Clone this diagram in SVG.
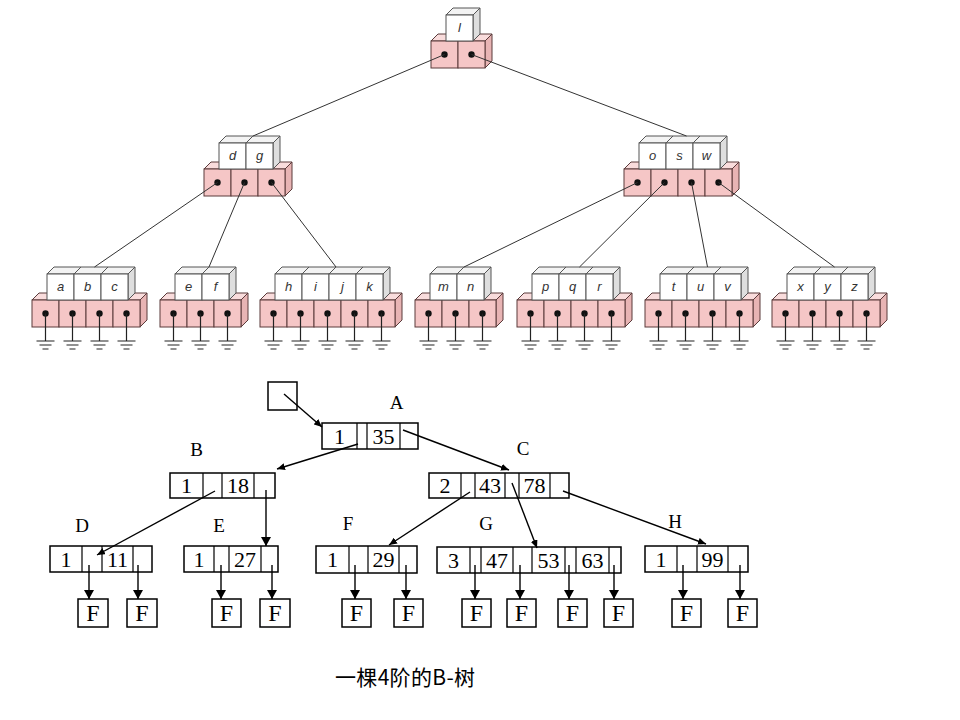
<svg xmlns="http://www.w3.org/2000/svg" width="960" height="720" viewBox="0 0 960 720">
<style>
.pt{fill:#f9dcdc;stroke:#5a3a3a;stroke-width:1}
.ps{fill:#e8b4b4;stroke:#5a3a3a;stroke-width:1}
.pf{fill:#f5c6c6;stroke:#5a3a3a;stroke-width:1}
.kt{fill:#f3f3f3;stroke:#555;stroke-width:1}
.ks{fill:#dedede;stroke:#555;stroke-width:1}
.kf{fill:#fff;stroke:#555;stroke-width:1}
.dot{fill:#111}
.gl{stroke:#222;stroke-width:1.2;fill:none}
.lt{font-family:"Liberation Sans",Arial,sans-serif;font-style:italic;font-size:13px;fill:#333;text-anchor:middle}
.tc{stroke:#333;stroke-width:1;fill:none}
.bx{fill:#fff;stroke:#000;stroke-width:1.5}
.dv{stroke:#000;stroke-width:1.2}
.num{font-family:"Liberation Serif","Times New Roman",serif;font-size:22px;fill:#000;text-anchor:middle}
.lab{font-family:"Liberation Serif","Times New Roman",serif;font-size:19px;fill:#000;text-anchor:middle}
.ff{font-family:"Liberation Serif","Times New Roman",serif;font-size:24px;fill:#000;text-anchor:middle}
.cn{stroke:#000;stroke-width:1.4;fill:none}
.cap{font-family:"Noto Sans CJK SC","Noto Sans",sans-serif;font-size:21px;fill:#000}
</style>
<defs>
<g id="pc">
<polygon class="pt" points="0,0 7,-7 34,-7 27,0"/>
<polygon class="ps" points="27,0 34,-7 34,20 27,27"/>
<rect class="pf" x="0" y="0" width="27" height="27"/>
<circle class="dot" cx="13.5" cy="13.5" r="3.2"/>
</g>
<g id="kc">
<polygon class="kt" points="0,0 7,-7 34,-7 27,0"/>
<polygon class="ks" points="27,0 34,-7 34,19 27,26"/>
<rect class="kf" x="0" y="0" width="27" height="26"/>
</g>
<g id="gnd">
<path class="gl" d="M0,0 V27.5 M-9,27.5 H9 M-6,31.5 H6 M-3,35.5 H3"/>
</g>
<marker id="ah" viewBox="0 0 10 10" refX="10" refY="5" markerWidth="9" markerHeight="10" markerUnits="userSpaceOnUse" orient="auto" preserveAspectRatio="none">
<path d="M0,0 L10,5 L0,10 z" fill="#000"/>
</marker>
<marker id="as" viewBox="0 0 10 10" refX="10" refY="5" markerWidth="8" markerHeight="7" markerUnits="userSpaceOnUse" orient="auto" preserveAspectRatio="none">
<path d="M0,0 L10,5 L0,10 z" fill="#000"/>
</marker>
</defs>
<rect x="0" y="0" width="960" height="720" fill="#fff"/>

<!-- top tree nodes -->
<g id="node-l">
<use href="#pc" x="431" y="41"/><use href="#pc" x="458" y="41"/>
<use href="#kc" x="446" y="15"/>
<text class="lt" x="459.5" y="32">l</text>
</g>
<g id="node-dg">
<use href="#pc" x="204" y="169"/><use href="#pc" x="231" y="169"/><use href="#pc" x="258" y="169"/>
<use href="#kc" x="219" y="143"/><use href="#kc" x="246" y="143"/>
<text class="lt" x="232.5" y="160">d</text><text class="lt" x="259.5" y="160">g</text>
</g>
<g id="node-osw">
<use href="#pc" x="624" y="169"/><use href="#pc" x="651" y="169"/><use href="#pc" x="678" y="169"/><use href="#pc" x="705" y="169"/>
<use href="#kc" x="639" y="143"/><use href="#kc" x="666" y="143"/><use href="#kc" x="693" y="143"/>
<text class="lt" x="652.5" y="160">o</text><text class="lt" x="679.5" y="160">s</text><text class="lt" x="706.5" y="160">w</text>
</g>
<g id="node-abc">
<use href="#pc" x="32" y="300"/><use href="#pc" x="59" y="300"/><use href="#pc" x="86" y="300"/><use href="#pc" x="113" y="300"/>
<use href="#kc" x="47" y="274"/><use href="#kc" x="74" y="274"/><use href="#kc" x="101" y="274"/>
<text class="lt" x="60.5" y="291">a</text><text class="lt" x="87.5" y="291">b</text><text class="lt" x="114.5" y="291">c</text>
<use href="#gnd" x="45.5" y="313.5"/><use href="#gnd" x="72.5" y="313.5"/><use href="#gnd" x="99.5" y="313.5"/><use href="#gnd" x="126.5" y="313.5"/>
</g>
<g id="node-ef">
<use href="#pc" x="160" y="300"/><use href="#pc" x="187" y="300"/><use href="#pc" x="214" y="300"/>
<use href="#kc" x="175" y="274"/><use href="#kc" x="202" y="274"/>
<text class="lt" x="188.5" y="291">e</text><text class="lt" x="215.5" y="291">f</text>
<use href="#gnd" x="173.5" y="313.5"/><use href="#gnd" x="200.5" y="313.5"/><use href="#gnd" x="227.5" y="313.5"/>
</g>
<g id="node-hijk">
<use href="#pc" x="260" y="300"/><use href="#pc" x="287" y="300"/><use href="#pc" x="314" y="300"/><use href="#pc" x="341" y="300"/><use href="#pc" x="368" y="300"/>
<use href="#kc" x="275" y="274"/><use href="#kc" x="302" y="274"/><use href="#kc" x="329" y="274"/><use href="#kc" x="356" y="274"/>
<text class="lt" x="288.5" y="291">h</text><text class="lt" x="315.5" y="291">i</text><text class="lt" x="342.5" y="291">j</text><text class="lt" x="369.5" y="291">k</text>
<use href="#gnd" x="273.5" y="313.5"/><use href="#gnd" x="300.5" y="313.5"/><use href="#gnd" x="327.5" y="313.5"/><use href="#gnd" x="354.5" y="313.5"/><use href="#gnd" x="381.5" y="313.5"/>
</g>
<g id="node-mn">
<use href="#pc" x="415" y="300"/><use href="#pc" x="442" y="300"/><use href="#pc" x="469" y="300"/>
<use href="#kc" x="430" y="274"/><use href="#kc" x="457" y="274"/>
<text class="lt" x="443.5" y="291">m</text><text class="lt" x="470.5" y="291">n</text>
<use href="#gnd" x="428.5" y="313.5"/><use href="#gnd" x="455.5" y="313.5"/><use href="#gnd" x="482.5" y="313.5"/>
</g>
<g id="node-pqr">
<use href="#pc" x="517" y="300"/><use href="#pc" x="544" y="300"/><use href="#pc" x="571" y="300"/><use href="#pc" x="598" y="300"/>
<use href="#kc" x="532" y="274"/><use href="#kc" x="559" y="274"/><use href="#kc" x="586" y="274"/>
<text class="lt" x="545.5" y="291">p</text><text class="lt" x="572.5" y="291">q</text><text class="lt" x="599.5" y="291">r</text>
<use href="#gnd" x="530.5" y="313.5"/><use href="#gnd" x="557.5" y="313.5"/><use href="#gnd" x="584.5" y="313.5"/><use href="#gnd" x="611.5" y="313.5"/>
</g>
<g id="node-tuv">
<use href="#pc" x="645" y="300"/><use href="#pc" x="672" y="300"/><use href="#pc" x="699" y="300"/><use href="#pc" x="726" y="300"/>
<use href="#kc" x="660" y="274"/><use href="#kc" x="687" y="274"/><use href="#kc" x="714" y="274"/>
<text class="lt" x="673.5" y="291">t</text><text class="lt" x="700.5" y="291">u</text><text class="lt" x="727.5" y="291">v</text>
<use href="#gnd" x="658.5" y="313.5"/><use href="#gnd" x="685.5" y="313.5"/><use href="#gnd" x="712.5" y="313.5"/><use href="#gnd" x="739.5" y="313.5"/>
</g>
<g id="node-xyz">
<use href="#pc" x="772" y="300"/><use href="#pc" x="799" y="300"/><use href="#pc" x="826" y="300"/><use href="#pc" x="853" y="300"/>
<use href="#kc" x="787" y="274"/><use href="#kc" x="814" y="274"/><use href="#kc" x="841" y="274"/>
<text class="lt" x="800.5" y="291">x</text><text class="lt" x="827.5" y="291">y</text><text class="lt" x="854.5" y="291">z</text>
<use href="#gnd" x="785.5" y="313.5"/><use href="#gnd" x="812.5" y="313.5"/><use href="#gnd" x="839.5" y="313.5"/><use href="#gnd" x="866.5" y="313.5"/>
</g>

<g id="top-connectors">
<line class="tc" x1="444.5" y1="54.5" x2="253" y2="136"/>
<line class="tc" x1="471.5" y1="54.5" x2="686.5" y2="136"/>
<line class="tc" x1="217.5" y1="182.5" x2="94.5" y2="267"/>
<line class="tc" x1="244.5" y1="182.5" x2="209" y2="267"/>
<line class="tc" x1="271.5" y1="182.5" x2="336" y2="267"/>
<line class="tc" x1="637.5" y1="182.5" x2="464" y2="267"/>
<line class="tc" x1="664.5" y1="182.5" x2="579.5" y2="267"/>
<line class="tc" x1="691.5" y1="182.5" x2="707.5" y2="267"/>
<line class="tc" x1="718.5" y1="182.5" x2="834.5" y2="267"/>
</g>

<!-- B-tree -->
<g id="root-ptr"><rect class="bx" x="268" y="382" width="29" height="28"/></g>
<g id="bA">
<rect class="bx" x="322" y="423" width="96" height="26"/>
<path class="dv" d="M357,423V449M367,423V449M400,423V449"/>
<text class="num" x="339.5" y="443.5">1</text><text class="num" x="383.5" y="443.5">35</text>
<text class="lab" x="396.5" y="408.5">A</text>
</g>
<g id="bB">
<rect class="bx" x="170" y="473" width="105" height="25"/>
<path class="dv" d="M203,473V498M222,473V498M254,473V498"/>
<text class="num" x="186.5" y="493">1</text><text class="num" x="238" y="493">18</text>
<text class="lab" x="196.5" y="456">B</text>
</g>
<g id="bC">
<rect class="bx" x="429" y="473" width="140" height="25"/>
<path class="dv" d="M461,473V498M475,473V498M505,473V498M519,473V498M550,473V498"/>
<text class="num" x="445" y="493">2</text><text class="num" x="490" y="493">43</text><text class="num" x="534.5" y="493">78</text>
<text class="lab" x="523" y="454.5">C</text>
</g>
<g id="bD">
<rect class="bx" x="50" y="546" width="102" height="26"/>
<path class="dv" d="M82,546V572M102,546V572M133,546V572"/>
<text class="num" x="66" y="566.5">1</text><text class="num" x="117.5" y="566.5">11</text>
<text class="lab" x="82" y="531.5">D</text>
</g>
<g id="bE">
<rect class="bx" x="184" y="546" width="94" height="26"/>
<path class="dv" d="M214,546V572M229,546V572M261,546V572"/>
<text class="num" x="199" y="566.5">1</text><text class="num" x="245" y="566.5">27</text>
<text class="lab" x="219" y="531.5">E</text>
</g>
<g id="bF">
<rect class="bx" x="316" y="546" width="101" height="27"/>
<path class="dv" d="M349,546V573M368,546V573M399,546V573"/>
<text class="num" x="332.5" y="567">1</text><text class="num" x="383.5" y="567">29</text>
<text class="lab" x="348" y="530">F</text>
</g>
<g id="bG">
<rect class="bx" x="437" y="547" width="184" height="26"/>
<path class="dv" d="M470,547V573M481,547V573M513,547V573M532,547V573M565,547V573M576,547V573M609,547V573"/>
<text class="num" x="453.5" y="567.5">3</text><text class="num" x="497" y="567.5">47</text><text class="num" x="548.5" y="567.5">53</text><text class="num" x="592.5" y="567.5">63</text>
<text class="lab" x="486" y="530">G</text>
</g>
<g id="bH">
<rect class="bx" x="645" y="546" width="103" height="26"/>
<path class="dv" d="M677,546V572M697,546V572M728,546V572"/>
<text class="num" x="661" y="566.5">1</text><text class="num" x="712.5" y="566.5">99</text>
<text class="lab" x="675" y="527.5">H</text>
</g>
<g id="leaves">
<rect class="bx" x="78" y="599" width="30" height="28"/><text class="ff" x="93" y="621">F</text>
<rect class="bx" x="127" y="599" width="30" height="28"/><text class="ff" x="142" y="621">F</text>
<rect class="bx" x="212" y="599" width="29" height="28"/><text class="ff" x="226.5" y="621">F</text>
<rect class="bx" x="260" y="599" width="30" height="28"/><text class="ff" x="275" y="621">F</text>
<rect class="bx" x="342" y="599" width="29" height="28"/><text class="ff" x="356.5" y="621">F</text>
<rect class="bx" x="394" y="599" width="29" height="28"/><text class="ff" x="408.5" y="621">F</text>
<rect class="bx" x="462" y="599" width="29" height="28"/><text class="ff" x="476.5" y="621">F</text>
<rect class="bx" x="507" y="599" width="29" height="28"/><text class="ff" x="521.5" y="621">F</text>
<rect class="bx" x="558" y="599" width="29" height="28"/><text class="ff" x="572.5" y="621">F</text>
<rect class="bx" x="604" y="599" width="29" height="28"/><text class="ff" x="618.5" y="621">F</text>
<rect class="bx" x="672" y="599" width="29" height="28"/><text class="ff" x="686.5" y="621">F</text>
<rect class="bx" x="728" y="599" width="29" height="28"/><text class="ff" x="742.5" y="621">F</text>
</g>
<g id="btree-connectors">
<line class="cn" x1="284" y1="394" x2="322" y2="427" marker-end="url(#as)"/>
<line class="cn" x1="358" y1="444" x2="277" y2="469" marker-end="url(#as)"/>
<line class="cn" x1="403" y1="430" x2="509" y2="470" marker-end="url(#as)"/>
<line class="cn" x1="215" y1="491" x2="97" y2="555" marker-end="url(#as)"/>
<line class="cn" x1="266" y1="490" x2="266" y2="546" marker-end="url(#ah)"/>
<line class="cn" x1="470" y1="492" x2="389" y2="545" marker-end="url(#as)"/>
<line class="cn" x1="512" y1="483" x2="537" y2="548" marker-end="url(#as)"/>
<line class="cn" x1="563" y1="491" x2="706" y2="544" marker-end="url(#as)"/>
<line class="cn" x1="89" y1="565" x2="89" y2="599" marker-end="url(#ah)"/>
<line class="cn" x1="138" y1="565" x2="138" y2="599" marker-end="url(#ah)"/>
<line class="cn" x1="221" y1="565" x2="221" y2="599" marker-end="url(#ah)"/>
<line class="cn" x1="272" y1="565" x2="272" y2="599" marker-end="url(#ah)"/>
<line class="cn" x1="355" y1="565" x2="355" y2="599" marker-end="url(#ah)"/>
<line class="cn" x1="406" y1="565" x2="406" y2="599" marker-end="url(#ah)"/>
<line class="cn" x1="475" y1="565" x2="475" y2="599" marker-end="url(#ah)"/>
<line class="cn" x1="520" y1="565" x2="520" y2="599" marker-end="url(#ah)"/>
<line class="cn" x1="569" y1="565" x2="569" y2="599" marker-end="url(#ah)"/>
<line class="cn" x1="614" y1="565" x2="614" y2="599" marker-end="url(#ah)"/>
<line class="cn" x1="683" y1="565" x2="683" y2="599" marker-end="url(#ah)"/>
<line class="cn" x1="740" y1="565" x2="740" y2="599" marker-end="url(#ah)"/>
</g>
<text class="cap" x="335" y="685" textLength="140" lengthAdjust="spacing">一棵4阶的B-树</text>
</svg>
